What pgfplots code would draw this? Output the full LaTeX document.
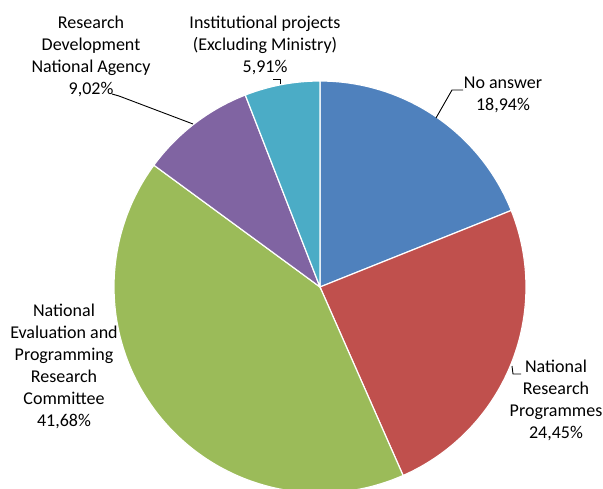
\documentclass[border=0pt]{standalone}
\usepackage{fontspec}
\setmainfont{Carlito}
\usepackage{pgfplots}
\pgfplotsset{compat=1.18}
\definecolor{cBlue}{HTML}{4F81BD}
\definecolor{cRed}{HTML}{C0504D}
\definecolor{cGreen}{HTML}{9BBB59}
\definecolor{cPurple}{HTML}{8064A2}
\definecolor{cTeal}{HTML}{4BACC6}
\tikzset{lbl/.style={font=\fontsize{18}{22}\selectfont, align=center, text=black, inner sep=0pt}}
\begin{document}
\begin{tikzpicture}
% data (percent)
\def\vA{18.94}\def\vB{24.45}\def\vC{41.68}\def\vD{9.02}\def\vE{5.91}
\def\cx{320}\def\cy{201}\def\rr{206}
\pgfmathsetmacro{\aO}{90}
\pgfmathsetmacro{\aA}{\aO-3.6*\vA}
\pgfmathsetmacro{\aB}{\aA-3.6*\vB}
\pgfmathsetmacro{\aC}{\aB-3.6*\vC}
\pgfmathsetmacro{\aD}{\aC-3.6*\vD}
\pgfmathsetmacro{\aE}{\aD-3.6*\vE}
\begin{axis}[
  scale only axis, width=603pt, height=488pt,
  xmin=0, xmax=603, ymin=0, ymax=488,
  hide axis,
]
\addplot[draw=none] coordinates {(0,0) (603,488)};
\addplot[fill=cBlue, draw=white, line width=1.2pt, domain=\aA:\aO, samples=80] ({\cx+\rr*cos(x)},{\cy+\rr*sin(x)}) -- (axis cs:\cx,\cy) -- cycle;
\addplot[fill=cRed, draw=white, line width=1.2pt, domain=\aB:\aA, samples=80] ({\cx+\rr*cos(x)},{\cy+\rr*sin(x)}) -- (axis cs:\cx,\cy) -- cycle;
\addplot[fill=cGreen, draw=white, line width=1.2pt, domain=\aC:\aB, samples=120] ({\cx+\rr*cos(x)},{\cy+\rr*sin(x)}) -- (axis cs:\cx,\cy) -- cycle;
\addplot[fill=cPurple, draw=white, line width=1.2pt, domain=\aD:\aC, samples=40] ({\cx+\rr*cos(x)},{\cy+\rr*sin(x)}) -- (axis cs:\cx,\cy) -- cycle;
\addplot[fill=cTeal, draw=white, line width=1.2pt, domain=\aE:\aD, samples=40] ({\cx+\rr*cos(x)},{\cy+\rr*sin(x)}) -- (axis cs:\cx,\cy) -- cycle;
% leader lines
\addplot[black, line width=0.9pt] coordinates {(112,394) (119,392) (193,364)};
\addplot[black, line width=0.9pt] coordinates {(273,409) (280,409) (280,404)};
\addplot[black, line width=0.9pt] coordinates {(463,398) (452,398) (436,370)};
\addplot[black, line width=0.9pt] coordinates {(512,122) (513,114) (521,114)};
% labels
\node[lbl] at (axis cs:91,432) {Research\\Development\\National Agency\\9,02\%};
\node[lbl] at (axis cs:265,443) {Institutional projects\\(Excluding Ministry)\\5,91\%};
\node[lbl] at (axis cs:503,393) {No answer\\18,94\%};
\node[lbl] at (axis cs:64,122) {National\\Evaluation and\\Programming\\Research\\Committee\\41,68\%};
\node[lbl] at (axis cs:556,88) {National\\Research\\Programmes\\24,45\%};
\end{axis}
\end{tikzpicture}
\end{document}
